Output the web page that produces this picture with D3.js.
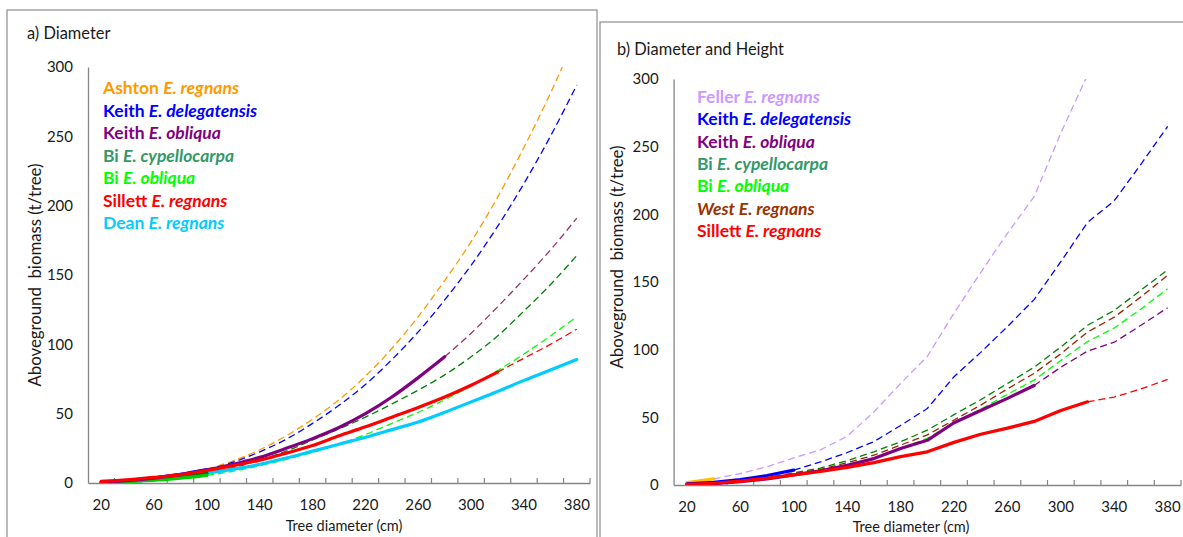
<!DOCTYPE html>
<html><head><meta charset="utf-8">
<script src="https://cdn.jsdelivr.net/npm/d3@7"></script>
<style>
body{margin:0;background:#fff}
svg{display:block}
text{font-family:Lato,"Open Sans",sans-serif;fill:#1a1a1a}
</style>
</head><body>
<svg id="chart" width="1183" height="537"></svg>
<script>
// ---------- DATA ----------
const diameters = [20,40,60,80,100,120,140,160,180,200,220,240,260,280,300,320,340,360,380];
const xTickLabels = [20,60,100,140,180,220,260,300,340,380];
const yTicks = [0,50,100,150,200,250,300];
const N = null;

// Panel a) Diameter
const a_ashtonRegnansExt   = [N,N,N,N,10,16,24,34,46,60,77,97,120,146,174,206,242,281,324];
const a_keithDelegFit      = [0.8,2,3.8,6.2,9.6,N,N,N,N,N,N,N,N,N,N,N,N,N,N];
const a_keithDelegExt      = [N,N,N,N,9.6,15,22.5,31.5,43,56,71,89,109,132,157,185,216,250,287];
const a_keithObliquaFit    = [0.5,1.7,3.5,6,9.5,13.5,18.5,25,32,40,50,62,76,91,N,N,N,N,N];
const a_keithObliquaExt    = [N,N,N,N,N,N,N,N,N,N,N,N,N,91,108,127,147,168,191];
const a_biCypFit           = [0.3,1.2,2.5,4.5,7,N,N,N,N,N,N,N,N,N,N,N,N,N,N];
const a_biCypExt           = [N,N,N,N,7,11,16.5,23,31,39,47.5,57,67,78,91,106,124,143,164];
const a_biObliquaFit       = [0.3,1,2,3.5,5.5,N,N,N,N,N,N,N,N,N,N,N,N,N,N];
const a_biObliquaExt       = [N,N,N,N,5.5,8.5,12.5,17,22,28,35,43,51,60,70,81,93,106,120];
const a_sillettFit         = [1.2,2.3,4,6,9,12.5,16.5,21.5,27,34,40.5,47.5,54.5,62,70.5,80,N,N,N];
const a_sillettExt         = [N,N,N,N,N,N,N,N,N,N,N,N,N,N,N,80,90,100,111];
const a_deanFit            = [0.5,1.3,2.5,4,7,10,13.5,18,23,28,33,38.5,44,51,58.5,66,74,81.5,89];

// Panel b) Diameter and Height
const b_orangeFit          = [1.7,4.5,N,N,N,N,N,N,N,N,N,N,N,N,N,N,N,N,N];
const b_fellerExt          = [N,4.5,8.5,13.5,20,26,36,54,75,95,127,157,186,213,260,303,N,N,N];
const b_keithDelegFit      = [0.8,2,4,7,11,N,N,N,N,N,N,N,N,N,N,N,N,N,N];
const b_keithDelegExt      = [N,N,N,N,11,17,24,32,44,56.5,80,98,117,137,165,194,210,237,265];
const b_keithObliquaFit    = [0.3,1,2.5,4.5,7.5,10.5,14.5,19.5,27,33,46,55,64,73.5,N,N,N,N,N];
const b_keithObliquaExt    = [N,N,N,N,N,N,N,N,N,N,N,N,N,73.5,87,99,105.5,118,131];
const b_biCypExt           = [0.3,1.3,3,5.5,9,12.5,18,24.5,32,40.5,52,63,75,87,102,118,129,144,159];
const b_biObliquaExt       = [0.2,1,2.3,4.5,7.5,10.5,15,20,27,34.5,46,56,67,77.5,92,106,116,130,145];
const b_westExt            = [0.3,1.2,2.8,5,8.3,11.5,16.5,22,29.5,37,48,59,71,82.5,97,113,124,139,155];
const b_sillettFit         = [0.5,1.3,2.8,5,7.5,10,13,16.5,21,24.5,31.5,37.5,42,47,55,61.5,N,N,N];
const b_sillettExt         = [N,N,N,N,N,N,N,N,N,N,N,N,N,N,N,61.5,65,71,78];

// Legends: [author, species, colour, authorItalic]
const legendA = [
  ["Ashton ","E. regnans","#FF9900",false],
  ["Keith ","E. delegatensis","#0000FF",false],
  ["Keith ","E. obliqua","#800080",false],
  ["Bi ","E. cypellocarpa","#339966",false],
  ["Bi ","E. obliqua","#00FF00",false],
  ["Sillett ","E. regnans","#FF0000",false],
  ["Dean ","E. regnans","#00CCFF",false]
];
const legendB = [
  ["Feller ","E. regnans","#CC99FF",false],
  ["Keith ","E. delegatensis","#0000FF",false],
  ["Keith ","E. obliqua","#800080",false],
  ["Bi ","E. cypellocarpa","#339966",false],
  ["Bi ","E. obliqua","#00FF00",false],
  ["West ","E. regnans","#993300",true],
  ["Sillett ","E. regnans","#FF0000",false]
];

// ---------- STYLE / LAYOUT ----------
const DASH = "7,4";
const seriesA = [
  {v:a_keithDelegFit, c:"#0000FF", solid:true},
  {v:a_ashtonRegnansExt, c:"#FF9900"},
  {v:a_keithDelegExt, c:"#0000FF"},
  {v:a_keithObliquaExt, c:"#993366"},
  {v:a_biCypExt, c:"#008000"},
  {v:a_biObliquaExt, c:"#00FF00"},
  {v:a_sillettExt, c:"#FF0000"},
  {v:a_deanFit, c:"#00CCFF", solid:true},
  {v:a_biCypFit, c:"#007000", solid:true},
  {v:a_biObliquaFit, c:"#00CC00", solid:true},
  {v:a_keithObliquaFit, c:"#800080", solid:true},
  {v:a_sillettFit, c:"#FF0000", solid:true}
];
const seriesB = [
  {v:b_fellerExt, c:"#CC99FF"},
  {v:b_keithDelegExt, c:"#0000FF"},
  {v:b_biCypExt, c:"#008000"},
  {v:b_westExt, c:"#992200"},
  {v:b_biObliquaExt, c:"#00FF00"},
  {v:b_keithObliquaExt, c:"#800080"},
  {v:b_sillettExt, c:"#FF0000"},
  {v:b_orangeFit, c:"#FFC000", solid:true},
  {v:b_keithDelegFit, c:"#0000FF", solid:true},
  {v:b_keithObliquaFit, c:"#800080", solid:true},
  {v:b_sillettFit, c:"#FF0000", solid:true}
];

const svg = d3.select("#chart");

function panel(cfg){
  const g = svg.append("g");
  g.append("rect").attr("x",cfg.frame[0]).attr("y",cfg.frame[1])
    .attr("width",cfg.frame[2]).attr("height",cfg.frame[3])
    .attr("fill","#fff").attr("stroke","#8c8c8c").attr("stroke-width",1.2);
  const x = d3.scaleBand().domain(diameters).range([cfg.left,cfg.right]).padding(0);
  const y = d3.scaleLinear().domain([0,300]).range([cfg.bottom,cfg.top]);
  const cx = d => x(d) + x.bandwidth()/2;

  // title
  g.append("text").attr("x",cfg.titlePos[0]).attr("y",cfg.titlePos[1])
    .attr("font-size",16.4).text(cfg.title);

  // y axis
  const ya = d3.axisLeft(y).tickValues(yTicks).tickSize(0).tickPadding(15);
  const yg = g.append("g").attr("transform",`translate(${cfg.left},0)`).call(ya);
  yg.select(".domain").attr("stroke","#868686").attr("stroke-width",1.3);
  yg.selectAll("text").attr("font-size",15).attr("font-family","Lato").attr("fill","#1a1a1a");

  // x axis
  const xa = d3.axisBottom(x).tickValues(diameters).tickSize(0).tickPadding(16)
    .tickFormat(d => xTickLabels.includes(d) ? d : "");
  const xg = g.append("g").attr("transform",`translate(0,${cfg.bottom})`).call(xa);
  xg.select(".domain").attr("stroke","#868686").attr("stroke-width",1.3);
  xg.selectAll("text").attr("font-size",15).attr("font-family","Lato").attr("fill","#1a1a1a");
  // tick marks at category boundaries, pointing inward
  const bounds = diameters.map(d => x(d)).concat([cfg.right]);
  g.append("g").selectAll("line").data(bounds.filter((b,i)=>i>0))
    .join("line").attr("x1",d=>d).attr("x2",d=>d)
    .attr("y1",cfg.bottom).attr("y2",cfg.bottom-5)
    .attr("stroke","#868686").attr("stroke-width",1.2);

  // axis titles
  g.append("text").attr("transform",`translate(${cfg.yTitle[0]},${cfg.yTitle[1]}) rotate(-90)`)
    .attr("text-anchor","middle").attr("font-size",16.8).style("white-space","pre")
    .text("Aboveground  biomass (t/tree)");
  g.append("text").attr("x",cfg.xTitle[0]).attr("y",cfg.xTitle[1])
    .attr("text-anchor","middle").attr("font-size",14.5).text("Tree diameter (cm)");

  // clip
  const cid = "clip"+cfg.id;
  svg.append("clipPath").attr("id",cid).append("rect")
    .attr("x",cfg.left).attr("y",y(300)).attr("width",cfg.right-cfg.left+4).attr("height",cfg.bottom-y(300));
  const lines = g.append("g").attr("clip-path",`url(#${cid})`);
  cfg.series.forEach(s => {
    const pts = diameters.map((d,i)=>[d,s.v[i]]).filter(p=>p[1]!==null);
    const line = d3.line().x(p=>cx(p[0])).y(p=>y(p[1])).curve(cfg.curve);
    lines.append("path").attr("d",line(pts)).attr("fill","none")
      .attr("stroke",s.c).attr("stroke-width",s.solid?3.2:1.3)
      .attr("stroke-dasharray",s.solid?null:DASH)
      .attr("stroke-linejoin","round").attr("stroke-linecap",s.solid?"round":"butt");
  });

  // legend
  const lg = g.append("g");
  cfg.legend.forEach((it,i) => {
    const t = lg.append("text").attr("x",cfg.legendPos[0]).attr("y",cfg.legendPos[1]+i*cfg.legendStep)
      .attr("font-size",17.5).attr("font-weight","bold");
    t.append("tspan").attr("fill",it[2]).attr("font-style",it[3]?"italic":"normal").style("white-space","pre").text(it[0]);
    t.append("tspan").attr("fill",it[2]).attr("font-style","italic").text(it[1]);
  });
}

panel({id:"a", frame:[7,10,590,540], left:88, right:590, top:67, bottom:483,
  title:"a) Diameter", titlePos:[27,39], yTitle:[41,275], xTitle:[344,531],
  series:seriesA, curve:d3.curveMonotoneX, legend:legendA, legendPos:[103,94], legendStep:22.5});
panel({id:"b", frame:[600,22,600,530], left:673.6, right:1181, top:79, bottom:485,
  title:"b) Diameter and Height", titlePos:[617,55], yTitle:[623,257], xTitle:[911,532],
  series:seriesB, curve:d3.curveLinear, legend:legendB, legendPos:[697,103], legendStep:22.3});
</script>
</body></html>
